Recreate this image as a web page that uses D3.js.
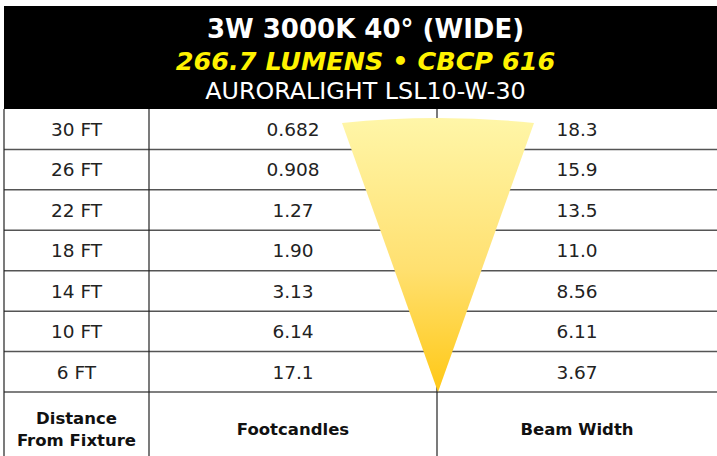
<!DOCTYPE html>
<html>
<head>
<meta charset="utf-8">
<script src="https://cdn.jsdelivr.net/npm/d3@7"></script>
<style>
  html, body { margin: 0; padding: 0; background: #fff; }
  svg { display: block; font-family: "DejaVu Sans", "Open Sans", sans-serif; }
</style>
</head>
<body>
<svg id="chart" width="717" height="456"></svg>
<script>
const titleLines = ['3W 3000K 40° (WIDE)', '266.7 LUMENS • CBCP 616', 'AURORALIGHT LSL10-W-30'];
const distances = ['30 FT', '26 FT', '22 FT', '18 FT', '14 FT', '10 FT', '6 FT'];
const footcandles = ['0.682', '0.908', '1.27', '1.90', '3.13', '6.14', '17.1'];
const beamWidths = ['18.3', '15.9', '13.5', '11.0', '8.56', '6.11', '3.67'];
const columnHeaders = [['Distance', 'From Fixture'], ['Footcandles'], ['Beam Width']];

const svg = d3.select('#chart');
const width = 717;
const left = 4;
const headerTop = 6;
const headerBottom = 109;
const footerTop = 392;
const colEdges = [left, 149, 437, width];

const y = d3.scaleBand()
  .domain(distances)
  .range([headerBottom, footerTop]);

const cols = [0, 1, 2].map((i) => (colEdges[i] + colEdges[i + 1]) / 2);

// beam cone gradient
const defs = svg.append('defs');
const grad = defs.append('linearGradient')
  .attr('id', 'beam')
  .attr('x1', 0).attr('y1', 0).attr('x2', 0).attr('y2', 1);
grad.append('stop').attr('offset', '0%').attr('stop-color', '#fff6a8');
grad.append('stop').attr('offset', '55%').attr('stop-color', '#ffe070');
grad.append('stop').attr('offset', '100%').attr('stop-color', '#ffc815');

// header block
svg.append('rect')
  .attr('x', left)
  .attr('y', headerTop)
  .attr('width', width - left)
  .attr('height', headerBottom - headerTop)
  .attr('fill', '#000');

const titleStyles = [
  { y: 38, size: 26, weight: 700, style: 'normal', fill: '#fff' },
  { y: 70, size: 25.5, weight: 700, style: 'italic', fill: '#fff200' },
  { y: 99, size: 23.8, weight: 400, style: 'normal', fill: '#fff' }
];

svg.append('g')
  .selectAll('text')
  .data(titleLines)
  .enter()
  .append('text')
  .attr('x', (left + width) / 2 + 5)
  .attr('y', (d, i) => titleStyles[i].y)
  .attr('text-anchor', 'middle')
  .attr('font-size', (d, i) => titleStyles[i].size)
  .attr('font-weight', (d, i) => titleStyles[i].weight)
  .attr('font-style', (d, i) => titleStyles[i].style)
  .attr('fill', (d, i) => titleStyles[i].fill)
  .text((d) => d);

// row lines
svg.append('g')
  .selectAll('line')
  .data(distances.slice(1).concat(['__footer']))
  .enter()
  .append('line')
  .attr('x1', left)
  .attr('x2', width)
  .attr('y1', (d) => (d === '__footer' ? footerTop : y(d)))
  .attr('y2', (d) => (d === '__footer' ? footerTop : y(d)))
  .attr('stroke', '#555')
  .attr('stroke-width', 1.5);

// column lines
svg.append('g')
  .selectAll('line')
  .data(colEdges.slice(0, 3))
  .enter()
  .append('line')
  .attr('x1', (d) => d)
  .attr('x2', (d) => d)
  .attr('y1', headerBottom)
  .attr('y2', 456)
  .attr('stroke', '#222')
  .attr('stroke-width', 1.2);

// beam cone, spread from 30 FT row down to the 6 FT row bottom
const coneCx = colEdges[2] + 1;
const coneTop = y(distances[0]) + 9;
const coneTip = y(distances[distances.length - 1]) + y.bandwidth();
const coneHalf = 96;
const rim = 5;
svg.append('path')
  .attr('d', `M${coneCx - coneHalf},${coneTop + rim}
    Q${coneCx},${coneTop - rim} ${coneCx + coneHalf},${coneTop + rim}
    L${coneCx},${coneTip} Z`)
  .attr('fill', 'url(#beam)');

// cell text
const rowsG = svg.append('g')
  .attr('font-size', 18.5)
  .attr('fill', '#222');

[distances, footcandles, beamWidths].forEach((values, c) => {
  rowsG.selectAll(null)
    .data(values)
    .enter()
    .append('text')
    .attr('x', cols[c])
    .attr('y', (d, i) => y(distances[i]) + y.bandwidth() / 2)
    .attr('dy', '0.37em')
    .attr('text-anchor', 'middle')
    .text((d) => d);
});

// footer headers
const footG = svg.append('g')
  .attr('font-size', 16.5)
  .attr('font-weight', 700)
  .attr('fill', '#111');

const footMid = 429;
columnHeaders.forEach((lines, c) => {
  lines.forEach((line, j) => {
    footG.append('text')
      .attr('x', cols[c])
      .attr('y', footMid + (j - (lines.length - 1) / 2) * 22)
      .attr('dy', '0.37em')
      .attr('text-anchor', 'middle')
      .text(line);
  });
});
</script>
</body>
</html>
